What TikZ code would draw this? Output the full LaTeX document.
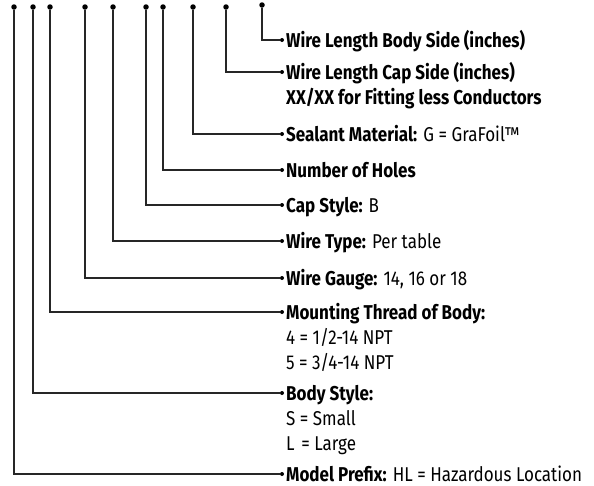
\documentclass[tikz,border=0pt]{standalone}
\usepackage{fontspec}
\setmainfont{Fira Sans}[FakeStretch=0.85]
\usetikzlibrary{positioning}

\tikzset{
  lead/.style={draw=black!85, line width=1.2pt},
  pin/.style={circle, fill=black, inner sep=0pt, minimum size=5.5pt},
  tip/.style={circle, fill=black, inner sep=0pt, minimum size=4pt},
  entry/.style={anchor=base west, inner sep=0pt,
    font=\fontsize{20}{25}\selectfont},
}

\begin{document}
\begin{tikzpicture}[x=1pt, y=-1pt]
  \useasboundingbox (0,0) rectangle (594,485);
  % pins along the top
  \node[pin] (pPrefix) at (14,7) {};
  \node[pin] (pBody) at (33,7) {};
  \node[pin] (pThread) at (50,7) {};
  \node[pin] (pGauge) at (85,7) {};
  \node[pin] (pType) at (113,7) {};
  \node[pin] (pCap) at (146,7) {};
  \node[pin] (pHoles) at (163,7) {};
  \node[pin] (pSeal) at (193,7) {};
  \node[pin] (pCapLen) at (226,7) {};
  \node[pin] (pBodyLen) at (262,5) {};
  % dots in front of the texts
  \node[tip] (dBodyLen) at (282,40) {};
  \node[tip] (dCapLen) at (282,72) {};
  \node[tip] (dSeal) at (282,134) {};
  \node[tip] (dHoles) at (282,170) {};
  \node[tip] (dCap) at (282,205) {};
  \node[tip] (dType) at (282,241) {};
  \node[tip] (dGauge) at (282,278) {};
  \node[tip] (dThread) at (282,312) {};
  \node[tip] (dBody) at (282,393) {};
  \node[tip] (dPrefix) at (282,474) {};
  % texts
  \node[entry] (tBodyLen) at ([shift={(4pt,-7pt)}]dBodyLen) {\textbf{Wire Length Body Side (inches)}};
  \node[entry] (tCapLen) at ([shift={(4pt,-7pt)}]dCapLen) {\vtop{\hbox{\textbf{Wire Length Cap Side (inches)}}\hbox{\textbf{XX/XX for Fitting less Conductors}}}};
  \node[entry] (tSeal) at ([shift={(4pt,-7pt)}]dSeal) {\textbf{Sealant Material:} G = GraFoil™};
  \node[entry] (tHoles) at ([shift={(4pt,-7pt)}]dHoles) {\textbf{Number of Holes}};
  \node[entry] (tCap) at ([shift={(4pt,-7pt)}]dCap) {\textbf{Cap Style:} B};
  \node[entry] (tType) at ([shift={(4pt,-7pt)}]dType) {\textbf{Wire Type:} Per table};
  \node[entry] (tGauge) at ([shift={(4pt,-7pt)}]dGauge) {\textbf{Wire Gauge:} 14, 16 or 18};
  \node[entry] (tThread) at ([shift={(4pt,-7pt)}]dThread) {\vtop{\hbox{\textbf{Mounting Thread of Body:}}\hbox{4 = 1/2-14 NPT}\hbox{5 = 3/4-14 NPT}}};
  \node[entry] (tBody) at ([shift={(4pt,-7pt)}]dBody) {\vtop{\hbox{\textbf{Body Style:}}\hbox{S = Small}\hbox{L\,\,= Large}}};
  \node[entry] (tPrefix) at ([shift={(4pt,-7pt)}]dPrefix) {\textbf{Model Prefix:} HL = Hazardous Location};
  % leaders
  \draw[lead] (pPrefix) |- (dPrefix);
  \draw[lead] (pBody) |- (dBody);
  \draw[lead] (pThread) |- (dThread);
  \draw[lead] (pGauge) |- (dGauge);
  \draw[lead] (pType) |- (dType);
  \draw[lead] (pCap) |- (dCap);
  \draw[lead] (pHoles) |- (dHoles);
  \draw[lead] (pSeal) |- (dSeal);
  \draw[lead] (pCapLen) |- (dCapLen);
  \draw[lead] (pBodyLen) |- (dBodyLen);
\end{tikzpicture}
\end{document}
